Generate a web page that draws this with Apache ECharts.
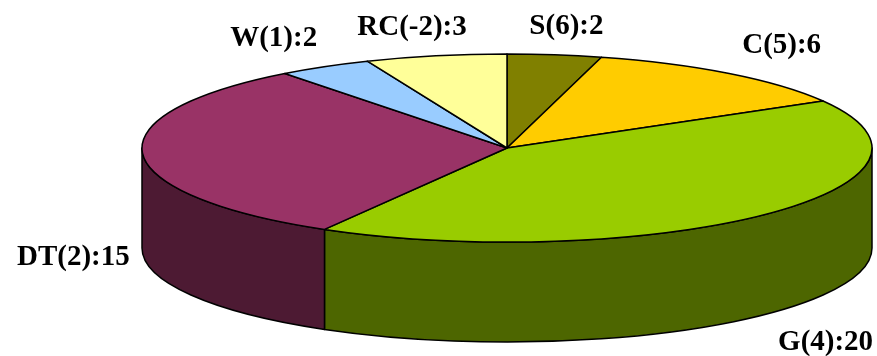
<!DOCTYPE html>
<html>
<head>
<meta charset="utf-8">
<script src="https://cdn.jsdelivr.net/npm/echarts@6/dist/echarts.min.js"></script>
<style>
  html, body { margin: 0; padding: 0; background: #ffffff; }
  #chart { width: 877px; height: 356px; }
</style>
</head>
<body>
<div id="chart"></div>
<script>
// Slices, clockwise from twelve o'clock
const categories = ['S', 'C', 'G', 'DT', 'W', 'RC'];
const codes = [6, 5, 4, 2, 1, -2];
const counts = [2, 6, 20, 15, 2, 3];
const colors = ['#808000', '#FFCC00', '#99CC00', '#993366', '#99CCFF', '#FFFF99'];

const FONT_FAMILY = '"Liberation Serif", "Times New Roman", serif';
const FONT_SIZE = 29;

// Pie geometry (top ellipse + wall depth)
const GEO = { cx: 507, cy: 148, rx: 365, ry: 94, depth: 100 };

const measureCtx = document.createElement('canvas').getContext('2d');
measureCtx.font = 'bold ' + FONT_SIZE + 'px ' + FONT_FAMILY;

function labelText(i) {
  return categories[i] + '(' + codes[i] + '):' + counts[i];
}

function darken(hex, f) {
  const n = parseInt(hex.slice(1), 16);
  const r = Math.round(((n >> 16) & 255) * f);
  const g = Math.round(((n >> 8) & 255) * f);
  const b = Math.round((n & 255) * f);
  return 'rgb(' + r + ',' + g + ',' + b + ')';
}

function pt(a, dy) {
  return [GEO.cx + GEO.rx * Math.sin(a), GEO.cy - GEO.ry * Math.cos(a) + (dy || 0)];
}

function clamp(v) { return Math.max(-1, Math.min(1, v)); }

const total = counts.reduce((s, v) => s + v, 0);

function renderItem(params, api) {
  const i = params.dataIndex;
  const value = api.value(0);
  let before = 0;
  for (let k = 0; k < i; k++) before += counts[k];
  const a0 = before / total * Math.PI * 2;
  const a1 = (before + value) / total * Math.PI * 2;
  const { cx, cy, rx, ry, depth } = GEO;
  const children = [];
  const stroke = { stroke: '#000000', lineWidth: 1.5, lineJoin: 'round' };

  // top face
  const p0 = pt(a0), p1 = pt(a1);
  const large = (a1 - a0) > Math.PI ? 1 : 0;
  children.push({
    type: 'path',
    z2: 2,
    shape: {
      pathData: 'M' + cx + ' ' + cy + ' L' + p0[0] + ' ' + p0[1] +
        ' A' + rx + ' ' + ry + ' 0 ' + large + ' 1 ' + p1[0] + ' ' + p1[1] + ' Z'
    },
    style: Object.assign({ fill: colors[i] }, stroke)
  });

  // front wall (only the part facing the viewer)
  const b0 = Math.max(a0, Math.PI / 2);
  const b1 = Math.min(a1, Math.PI * 1.5);
  if (b1 > b0) {
    const q0 = pt(b0), q1 = pt(b1), q2 = pt(b1, depth), q3 = pt(b0, depth);
    children.push({
      type: 'path',
      z2: 1,
      shape: {
        pathData: 'M' + q0[0] + ' ' + q0[1] +
          ' A' + rx + ' ' + ry + ' 0 0 1 ' + q1[0] + ' ' + q1[1] +
          ' L' + q2[0] + ' ' + q2[1] +
          ' A' + rx + ' ' + ry + ' 0 0 0 ' + q3[0] + ' ' + q3[1] + ' Z'
      },
      style: Object.assign({ fill: darken(colors[i], 0.5) }, stroke)
    });
  }

  // outside label
  const mid = (a0 + a1) / 2;
  const s = Math.sin(mid), c = Math.cos(mid);
  const anchor = pt(mid, c < 0 ? depth : 0);
  const text = labelText(i);
  const w = measureCtx.measureText(text).width;
  const lx = anchor[0] + clamp(1.8 * s) * (w / 2 + 13);
  const ly = anchor[1] - clamp(1.8 * c) * 28;
  children.push({
    type: 'text',
    z2: 3,
    x: lx,
    y: ly,
    style: {
      text: text,
      fill: '#000000',
      fontSize: FONT_SIZE,
      fontWeight: 'bold',
      fontFamily: FONT_FAMILY,
      align: 'center',
      verticalAlign: 'middle'
    }
  });

  return { type: 'group', children: children };
}

const chart = echarts.init(document.getElementById('chart'), null, { renderer: 'canvas' });
chart.setOption({
  backgroundColor: '#ffffff',
  animation: false,
  tooltip: { show: false },
  series: [{
    type: 'custom',
    coordinateSystem: 'none',
    silent: true,
    renderItem: renderItem,
    data: counts.map((v, i) => ({ name: categories[i], value: [v] }))
  }]
});
</script>
</body>
</html>
